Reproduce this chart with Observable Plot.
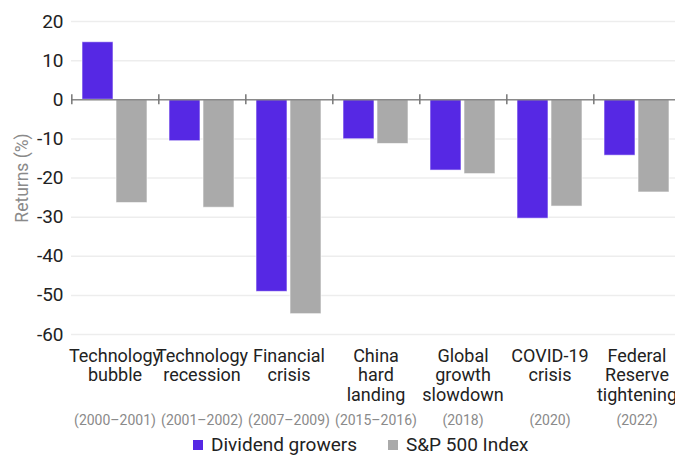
<!DOCTYPE html>
<html><head><meta charset="utf-8">
<script src="https://cdn.jsdelivr.net/npm/d3@7"></script>
<script src="https://cdn.jsdelivr.net/npm/@observablehq/plot@0.6"></script>
<style>
html,body{margin:0;padding:0;background:#fff;overflow:hidden}
body{width:675px;height:455px;font-family:Roboto,sans-serif}
#chart{width:675px;overflow:hidden}
#chart svg{display:block;max-width:none}
#chart svg g[aria-label="category labels"]{letter-spacing:-0.7px}
.legend{display:flex;align-items:center;margin-left:193px;margin-top:5px;height:20px;font-size:19px;color:#222;line-height:20px}
.legend .item{display:flex;align-items:center;margin-right:31px}
.legend .sw{width:10px;height:10px;margin-right:8px}
</style></head><body>
<div id="chart"></div>
<script>
const categories = ["Technology\nbubble","Technology\nrecession","Financial\ncrisis","China\nhard\nlanding","Global\ngrowth\nslowdown","COVID-19\ncrisis","Federal\nReserve\ntightening"];
const periods = ["(2000–2001)","(2001–2002)","(2007–2009)","(2015–2016)","(2018)","(2020)","(2022)"];
const series = ["Dividend growers","S&P 500 Index"];
const dividendGrowers = [14.7,-10.6,-49.1,-10.1,-18.1,-30.4,-14.3];
const sp500 = [-26.4,-27.6,-54.8,-11.3,-19.0,-27.3,-23.7];
const colors = ["#5628e4","#aaaaaa"];
const yTicks = [20,10,0,-10,-20,-30,-40,-50,-60];
const yLabel = "Returns (%)";

const rows = [];
categories.forEach((c,i)=>{
  rows.push({category:c, series:series[0], value:dividendGrowers[i]});
  rows.push({category:c, series:series[1], value:sp500[i]});
});
const labels = categories.map((c,i)=>({category:c, period:periods[i]}));

const W=681,H=430,ML=70,MR=0,MT=21,MB=96;
const PI=0.08, PO=0.29;
const facetW=(W-ML-MR)/categories.length;
const step=facetW/(series.length-PI+2*PO);
const tickDx = -(step*PO + step*(1-PI)/2);

const chart = Plot.plot({
  width:W,height:H,marginLeft:ML,marginRight:MR,marginTop:MT,marginBottom:MB,
  style:{fontFamily:"Roboto, sans-serif",background:"transparent",overflow:"visible",maxWidth:"none"},
  fx:{domain:categories,padding:0,axis:null},
  x:{domain:series,paddingInner:PI,paddingOuter:PO,axis:null},
  y:{domain:[-60,20],axis:null},
  color:{domain:series,range:colors},
  marks:[
    Plot.gridY(yTicks,{stroke:"#000",strokeOpacity:0.07,strokeWidth:1.5}),
    Plot.barY(rows,{fx:"category",x:"series",y:"value",fill:"series",stroke:"white",strokeOpacity:0.6,strokeWidth:1}),
    Plot.ruleY([0],{stroke:"#8a8a8a",strokeWidth:1.5}),
    Plot.ruleX([series[0]],{x:d=>d,y1:0,y2:0,insetTop:-5,insetBottom:-5,dx:tickDx,stroke:"#777",strokeWidth:1.5}),
    Plot.axisY(yTicks,{tickSize:0,tickPadding:8,fontSize:19,fill:"#222",tickFormat:d=>String(d),label:null}),
    Plot.axisY({ticks:[],tickSize:0,label:yLabel,labelAnchor:"center",labelOffset:56,labelArrow:"none",fontSize:17.5,fill:"#8a8a8a",dy:-11}),
    Plot.text(labels,{fx:"category",text:"category",frameAnchor:"bottom",lineAnchor:"top",dy:13,fontSize:18,lineHeight:1.1,fill:"#222",ariaLabel:"category labels"}),
    Plot.text(labels,{fx:"category",text:"period",frameAnchor:"bottom",lineAnchor:"middle",dy:86,fontSize:14,fill:"#8a8a8a"})
  ]
});
document.getElementById("chart").appendChild(chart);

const legend = document.createElement("div");
legend.className = "legend";
series.forEach((s,i)=>{
  const it = document.createElement("div"); it.className="item";
  const sw = document.createElement("span"); sw.className="sw"; sw.style.background=colors[i];
  const tx = document.createElement("span"); tx.textContent=s;
  it.appendChild(sw); it.appendChild(tx); legend.appendChild(it);
});
document.body.appendChild(legend);
</script>
</body></html>
